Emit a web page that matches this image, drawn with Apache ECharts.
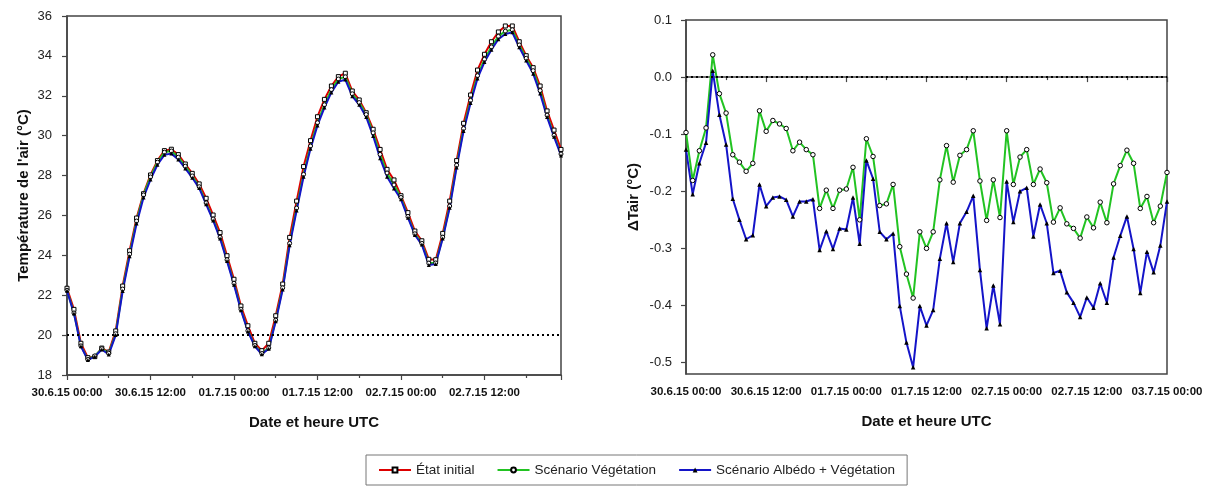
<!DOCTYPE html>
<html><head><meta charset="utf-8">
<script src="https://cdn.jsdelivr.net/npm/echarts@6/dist/echarts.min.js"></script>
<style>html,body{margin:0;padding:0;background:#fff}#c{width:1212px;height:486px}</style>
</head><body><div id="c"></div>
<script>
const seriesNames = ['État initial', 'Scénario Végétation', 'Scénario Albédo + Végétation'];
const tickLabels = ['30.6.15 00:00', '30.6.15 12:00', '01.7.15 00:00', '01.7.15 12:00', '02.7.15 00:00', '02.7.15 12:00', '03.7.15 00:00'];
const deltaTicks = [-0.5, -0.4, -0.3, -0.2, -0.1, 0, 0.1];

// Left chart: air temperature (°C), hourly from 30.6.15 00:00
const tempInitial = [22.35,21.29,19.59,18.87,18.92,19.35,19.15,20.21,22.46,24.23,25.87,27.09,28.03,28.75,29.25,29.32,29.05,28.58,28.11,27.58,26.86,26.02,25.14,23.98,22.80,21.46,20.47,19.59,19.22,19.59,20.97,22.56,24.90,26.72,28.45,29.75,30.95,31.82,32.49,32.96,33.13,32.24,31.79,31.15,30.32,29.31,28.31,27.78,26.99,26.14,25.22,24.73,23.80,23.78,25.10,26.72,28.75,30.62,32.04,33.29,34.08,34.71,35.20,35.50,35.50,34.71,34.01,33.41,32.49,31.24,30.28,29.31];
const tempVeg = [22.25,21.11,19.46,18.78,18.96,19.32,19.09,20.07,22.31,24.06,25.72,27.03,27.93,28.67,29.17,29.23,28.92,28.47,27.98,27.44,26.63,25.82,24.91,23.78,22.60,21.30,20.22,19.48,19.08,19.36,20.75,22.37,24.60,26.37,28.06,29.48,30.65,31.55,32.31,32.84,32.95,32.10,31.66,31.06,30.14,29.06,28.13,27.53,26.90,25.95,25.08,24.60,23.61,23.62,24.91,26.47,28.52,30.36,31.77,33.01,33.83,34.45,34.98,35.24,35.31,34.55,33.88,33.26,32.26,31.03,30.02,29.08];
const tempAlbVeg = [22.22,21.08,19.44,18.75,18.93,19.28,19.03,20.00,22.21,23.95,25.59,26.90,27.80,28.54,29.04,29.10,28.81,28.36,27.89,27.37,26.56,25.75,24.84,23.71,22.53,21.25,20.18,19.44,19.04,19.32,20.69,22.29,24.50,26.25,27.94,29.35,30.51,31.41,32.17,32.70,32.81,31.98,31.55,30.94,29.98,28.87,27.94,27.35,26.81,25.89,25.02,24.54,23.52,23.56,24.84,26.38,28.41,30.24,31.64,32.87,33.69,34.31,34.84,35.10,35.18,34.43,33.77,33.11,32.11,30.93,29.94,29.01];

// Right chart: ΔTair (°C), hourly from 30.6.15 00:00 to 03.7.15 00:00
const deltaVeg = [-0.097,-0.181,-0.129,-0.089,0.039,-0.029,-0.063,-0.136,-0.149,-0.165,-0.151,-0.059,-0.095,-0.076,-0.082,-0.090,-0.129,-0.114,-0.127,-0.136,-0.230,-0.198,-0.230,-0.198,-0.196,-0.158,-0.250,-0.108,-0.139,-0.225,-0.222,-0.188,-0.297,-0.345,-0.387,-0.271,-0.300,-0.271,-0.180,-0.120,-0.184,-0.137,-0.127,-0.094,-0.182,-0.251,-0.180,-0.246,-0.094,-0.188,-0.140,-0.127,-0.188,-0.161,-0.185,-0.254,-0.229,-0.257,-0.265,-0.282,-0.245,-0.264,-0.219,-0.255,-0.187,-0.155,-0.128,-0.151,-0.230,-0.209,-0.255,-0.226,-0.167];
const deltaAlbVeg = [-0.127,-0.205,-0.151,-0.115,0.011,-0.066,-0.118,-0.213,-0.250,-0.284,-0.277,-0.188,-0.226,-0.211,-0.209,-0.215,-0.244,-0.218,-0.218,-0.214,-0.303,-0.270,-0.301,-0.265,-0.267,-0.211,-0.292,-0.146,-0.178,-0.271,-0.284,-0.274,-0.401,-0.465,-0.508,-0.401,-0.435,-0.408,-0.318,-0.256,-0.324,-0.256,-0.236,-0.208,-0.338,-0.440,-0.365,-0.433,-0.183,-0.254,-0.200,-0.194,-0.279,-0.223,-0.256,-0.343,-0.339,-0.377,-0.395,-0.420,-0.386,-0.404,-0.361,-0.395,-0.316,-0.278,-0.244,-0.301,-0.378,-0.306,-0.342,-0.295,-0.218];

const RED = '#dd0000', GREEN = '#22c322', BLUE = '#1414c8', AX = '#444';
const FONT = 'Liberation Sans, Arial';
const pts = arr => arr.map((v, i) => [i, v]);

const axisCommonX = {
  type: 'value', interval: 12, splitLine: {show: false},
  axisLine: {lineStyle: {color: AX, width: 1.5}},
  axisTick: {length: 5, lineStyle: {color: AX, width: 1.2}},
  minorTick: {show: true, splitNumber: 2, length: 3, lineStyle: {color: AX, width: 1.2}},
  axisLabel: {formatter: v => (v % 12 === 0 ? tickLabels[v / 12] : ''), fontWeight: 'bold', fontSize: 11.5, color: '#111', margin: 12, fontFamily: FONT},
  name: 'Date et heure UTC', nameLocation: 'middle', nameGap: 40,
  nameTextStyle: {fontWeight: 'bold', fontSize: 15, color: '#111', fontFamily: FONT}
};
const axisCommonY = {
  type: 'value', splitLine: {show: false},
  axisLine: {lineStyle: {color: AX, width: 1.5}},
  axisTick: {length: 5, lineStyle: {color: AX, width: 1.2}},
  nameLocation: 'middle', nameRotate: 90,
  nameTextStyle: {fontWeight: 'bold', fontSize: 15, color: '#111', fontFamily: FONT}
};
const dotted = {type: [2, 3], color: '#000', width: 1.8};

const option = {
  animation: false,
  backgroundColor: '#fff',
  textStyle: {fontFamily: FONT},
  grid: [
    {left: 67, top: 16, width: 494, height: 359, show: true, borderColor: AX, borderWidth: 1.5},
    {left: 686, top: 20, width: 481, height: 354, show: true, borderColor: AX, borderWidth: 1.5}
  ],
  xAxis: [
    Object.assign({}, axisCommonX, {gridIndex: 0, min: 0, max: 71}),
    Object.assign({}, axisCommonX, {gridIndex: 1, min: 0, max: 72})
  ],
  yAxis: [
    Object.assign({}, axisCommonY, {gridIndex: 0, min: 18, max: 36, interval: 2,
      axisLabel: {fontSize: 13, color: '#222', margin: 15},
      name: "Température de l'air (°C)", nameGap: 36}),
    Object.assign({}, axisCommonY, {gridIndex: 1, min: -0.52, max: 0.1,
      axisTick: {length: 5, lineStyle: {color: AX, width: 1.2}, customValues: deltaTicks},
      axisLabel: {fontSize: 13, color: '#222', margin: 14, customValues: deltaTicks, formatter: v => (Math.abs(v) < 1e-9 ? '0.0' : v.toFixed(1))},
      name: 'ΔTair (°C)', nameGap: 45})
  ],
  legend: {
    data: seriesNames, left: 366, top: 455, orient: 'horizontal',
    borderColor: '#777', borderWidth: 1, padding: [8, 12, 8, 12], itemGap: 22,
    itemWidth: 32, itemHeight: 6,
    textStyle: {fontSize: 13.5, color: '#222'}
  },
  series: [
    {name: seriesNames[0], type: 'line', xAxisIndex: 0, yAxisIndex: 0, data: pts(tempInitial),
      symbol: 'rect', symbolSize: 4, lineStyle: {color: RED, width: 2},
      itemStyle: {color: '#fff', borderColor: '#000', borderWidth: 1},
      markLine: {silent: true, symbol: 'none', label: {show: false}, lineStyle: dotted, data: [{yAxis: 20}]}},
    {name: seriesNames[1], type: 'line', xAxisIndex: 0, yAxisIndex: 0, data: pts(tempVeg),
      symbol: 'circle', symbolSize: 4, lineStyle: {color: GREEN, width: 2},
      itemStyle: {color: '#fff', borderColor: '#000', borderWidth: 1}},
    {name: seriesNames[2], type: 'line', xAxisIndex: 0, yAxisIndex: 0, data: pts(tempAlbVeg),
      symbol: 'triangle', symbolSize: 4, lineStyle: {color: BLUE, width: 2},
      itemStyle: {color: '#000'}},
    {name: seriesNames[1], type: 'line', xAxisIndex: 1, yAxisIndex: 1, data: pts(deltaVeg),
      symbol: 'circle', symbolSize: 4.5, lineStyle: {color: GREEN, width: 2},
      itemStyle: {color: '#fff', borderColor: '#000', borderWidth: 1},
      markLine: {silent: true, symbol: 'none', label: {show: false}, lineStyle: dotted, data: [{yAxis: 0}]}},
    {name: seriesNames[2], type: 'line', xAxisIndex: 1, yAxisIndex: 1, data: pts(deltaAlbVeg),
      symbol: 'triangle', symbolSize: 4.5, lineStyle: {color: BLUE, width: 2},
      itemStyle: {color: '#000'}}
  ]
};
echarts.init(document.getElementById('c')).setOption(option);
</script>
</body></html>
